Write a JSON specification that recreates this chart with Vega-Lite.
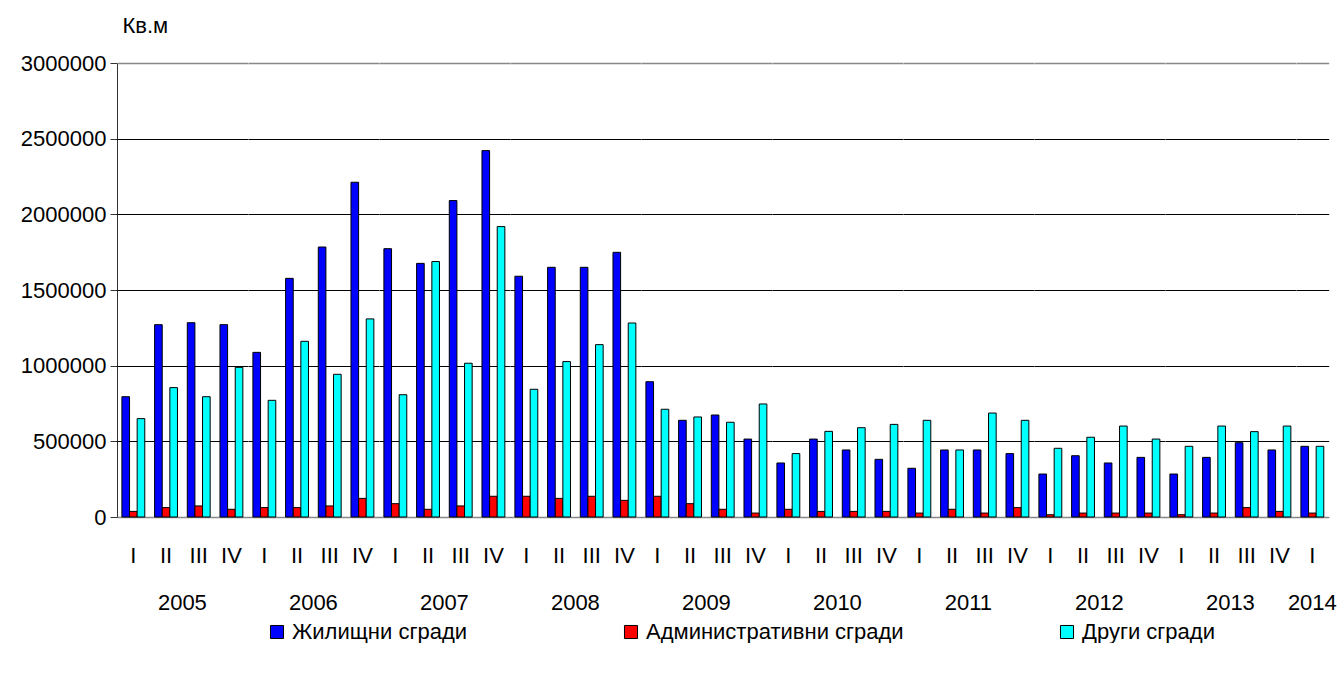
{
  "$schema": "https://vega.github.io/schema/vega-lite/v6.json",
  "background": "white",
  "padding": {"left": 20, "top": 14, "right": 0, "bottom": 0},
  "config": {
    "font": "Liberation Sans",
    "view": {"stroke": null},
    "axis": {"labelFontSize": 22, "labelColor": "#000", "titleFont": "Liberation Sans"},
    "header": {"labelFontSize": 22, "labelColor": "#000"}
  },
  "data": {"values": [
    {"year":"2005","q":"I","Жилищни сгради":795000,"Административни сгради":37000,"Други сгради":650000},
    {"year":"2005","q":"II","Жилищни сгради":1271000,"Административни сгради":62000,"Други сгради":855000},
    {"year":"2005","q":"III","Жилищни сгради":1284000,"Административни сгради":73000,"Други сгради":795000},
    {"year":"2005","q":"IV","Жилищни сгради":1271000,"Административни сгради":51000,"Други сгради":989000},
    {"year":"2006","q":"I","Жилищни сгради":1088000,"Административни сгради":62000,"Други сгради":771000},
    {"year":"2006","q":"II","Жилищни сгради":1577000,"Административни сгради":62000,"Други сгради":1161000},
    {"year":"2006","q":"III","Жилищни сгради":1784000,"Административни сгради":73000,"Други сгради":943000},
    {"year":"2006","q":"IV","Жилищни сгради":2212000,"Административни сгради":123000,"Други сгради":1309000},
    {"year":"2007","q":"I","Жилищни сгради":1773000,"Административни сгради":88000,"Други сгради":808000},
    {"year":"2007","q":"II","Жилищни сгради":1676000,"Административни сгради":51000,"Други сгради":1688000},
    {"year":"2007","q":"III","Жилищни сгради":2091000,"Административни сгради":73000,"Други сгради":1016000},
    {"year":"2007","q":"IV","Жилищни сгради":2421000,"Административни сгради":137000,"Други сгради":1919000},
    {"year":"2008","q":"I","Жилищни сгради":1591000,"Административни сгради":137000,"Други сгради":844000},
    {"year":"2008","q":"II","Жилищни сгради":1650000,"Административни сгради":123000,"Други сгради":1027000},
    {"year":"2008","q":"III","Жилищни сгради":1650000,"Административни сгради":137000,"Други сгради":1139000},
    {"year":"2008","q":"IV","Жилищни сгради":1749000,"Административни сгради":110000,"Други сгради":1282000},
    {"year":"2009","q":"I","Жилищни сгради":894000,"Административни сгради":137000,"Други сгради":712000},
    {"year":"2009","q":"II","Жилищни сгради":639000,"Административни сгради":88000,"Други сгради":661000},
    {"year":"2009","q":"III","Жилищни сгради":674000,"Административни сгради":51000,"Други сгради":626000},
    {"year":"2009","q":"IV","Жилищни сгради":515000,"Административни сгради":26000,"Други сгради":747000},
    {"year":"2010","q":"I","Жилищни сгради":357000,"Административни сгради":51000,"Други сгради":419000},
    {"year":"2010","q":"II","Жилищни сгради":515000,"Административни сгради":37000,"Други сгради":566000},
    {"year":"2010","q":"III","Жилищни сгради":443000,"Административни сгради":37000,"Други сгради":590000},
    {"year":"2010","q":"IV","Жилищни сгради":381000,"Административни сгради":37000,"Други сгради":612000},
    {"year":"2011","q":"I","Жилищни сгради":322000,"Административни сгради":26000,"Други сгради":639000},
    {"year":"2011","q":"II","Жилищни сгради":443000,"Административни сгради":51000,"Други сгради":443000},
    {"year":"2011","q":"III","Жилищни сгради":443000,"Административни сгради":26000,"Други сгради":687000},
    {"year":"2011","q":"IV","Жилищни сгради":419000,"Административни сгради":62000,"Други сгради":639000},
    {"year":"2012","q":"I","Жилищни сгради":284000,"Административни сгради":15000,"Други сгради":454000},
    {"year":"2012","q":"II","Жилищни сгради":405000,"Административни сгради":26000,"Други сгради":527000},
    {"year":"2012","q":"III","Жилищни сгради":357000,"Административни сгради":26000,"Други сгради":601000},
    {"year":"2012","q":"IV","Жилищни сгради":394000,"Административни сгради":26000,"Други сгради":515000},
    {"year":"2013","q":"I","Жилищни сгради":284000,"Административни сгради":15000,"Други сгради":467000},
    {"year":"2013","q":"II","Жилищни сгради":394000,"Административни сгради":26000,"Други сгради":601000},
    {"year":"2013","q":"III","Жилищни сгради":491000,"Административни сгради":62000,"Други сгради":564000},
    {"year":"2013","q":"IV","Жилищни сгради":443000,"Административни сгради":37000,"Други сгради":601000},
    {"year":"2014","q":"I","Жилищни сгради":467000,"Административни сгради":26000,"Други сгради":467000}
  ]},
  "transform": [
    {"fold": ["Жилищни сгради", "Административни сгради", "Други сгради"], "as": ["s", "v"]}
  ],
  "facet": {
    "column": {
      "field": "year",
      "type": "ordinal",
      "header": {"title": null, "labelOrient": "bottom", "labelPadding": 27, "labelFontSize": 22}
    }
  },
  "spacing": 0,
  "resolve": {"scale": {"x": "independent"}},
  "spec": {
    "width": {"step": 7.628},
    "height": 454,
    "mark": {"type": "bar", "stroke": "#000", "strokeWidth": 1},
    "encoding": {
      "x": {
        "field": "q", "type": "ordinal", "sort": ["I", "II", "III", "IV"],
        "scale": {"paddingInner": 0.3, "paddingOuter": 0.15},
        "axis": {"title": null, "labelAngle": 0, "ticks": false, "labelPadding": 28, "domainColor": "#888", "domainWidth": 1.5, "labelFontSize": 22}
      },
      "xOffset": {"field": "s", "type": "nominal", "sort": ["Жилищни сгради", "Административни сгради", "Други сгради"]},
      "y": {
        "field": "v", "type": "quantitative",
        "scale": {"domain": [0, 3000000], "nice": false},
        "axis": {
          "title": "Кв.м", "titleAngle": 0, "titleAlign": "left", "titleBaseline": "alphabetic",
          "titleX": 5, "titleY": -31, "titleFontSize": 22, "titleFontWeight": "normal", "titleColor": "#000",
          "values": [0, 500000, 1000000, 1500000, 2000000, 2500000, 3000000],
          "format": "d", "tickSize": 7, "tickColor": "#333", "labelPadding": 4,
          "domainColor": "#333", "gridOpacity": 1, "labelFontSize": 22,
          "gridColor": {"condition": {"test": "datum.value === 3000000", "value": "#888"}, "value": "#000"},
          "gridWidth": {"condition": {"test": "datum.value === 3000000", "value": 1.5}, "value": 1}
        }
      },
      "color": {
        "field": "s", "type": "nominal",
        "scale": {"domain": ["Жилищни сгради", "Административни сгради", "Други сгради"], "range": ["#0000FF", "#FF0000", "#00FFFF"]},
        "legend": {
          "title": null, "orient": "none", "legendX": 149, "legendY": 558, "direction": "horizontal",
          "symbolType": "square", "symbolSize": 170, "symbolStrokeColor": "#000", "symbolStrokeWidth": 1,
          "labelFontSize": 22, "labelColor": "#000", "columnPadding": 152, "labelLimit": 400
        }
      }
    }
  }
}
